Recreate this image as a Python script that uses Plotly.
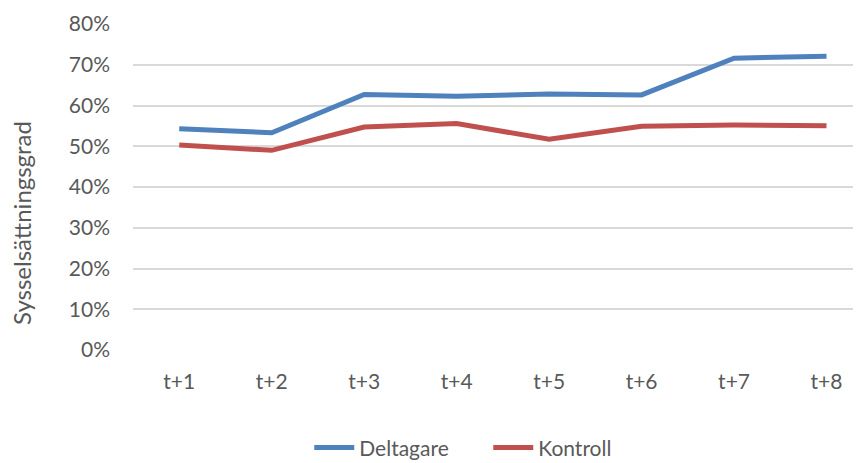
import plotly.graph_objects as go

# Sysselsättningsgrad per period
perioder = ["t+1", "t+2", "t+3", "t+4", "t+5", "t+6", "t+7", "t+8"]
deltagare = [0.543, 0.533, 0.627, 0.623, 0.628, 0.626, 0.716, 0.721]
kontroll = [0.503, 0.490, 0.547, 0.556, 0.517, 0.549, 0.552, 0.550]

font = "Lato, Calibri, sans-serif"
grey = "#595959"

fig = go.Figure()
fig.add_trace(go.Scatter(x=perioder, y=deltagare, name="Deltagare", mode="lines",
                         line=dict(color="#4F81BD", width=5)))
fig.add_trace(go.Scatter(x=perioder, y=kontroll, name="Kontroll", mode="lines",
                         line=dict(color="#C0504D", width=5)))

# page body adds 8px offset, so figure is 8px smaller than the window
fig.update_layout(
    width=853, height=455,
    margin=dict(l=125, r=0, t=16, b=113, autoexpand=False),
    plot_bgcolor="white", paper_bgcolor="white",
    font=dict(family=font, size=21, color=grey),
    showlegend=True,
    legend=dict(orientation="h", x=0.488, xanchor="center",
                y=-0.30, yanchor="middle", font=dict(size=21, color=grey),
                itemwidth=40, entrywidth=124, tracegroupgap=0),
)
fig.update_xaxes(type="category", range=[-0.5, 7.373], showgrid=False,
                 showline=False, ticks="", ticklabelstandoff=17, zeroline=False)
fig.update_yaxes(range=[0, 0.8], dtick=0.1, tickformat=".0%", showgrid=True,
                 gridcolor="#D9D9D9", gridwidth=1.5, zeroline=False,
                 ticks="", ticklabelstandoff=22, showline=False)
fig.add_annotation(text="Sysselsättningsgrad", textangle=-90, xref="paper", yref="paper",
                   x=0, xanchor="center", xshift=-112, y=0.5, yanchor="middle", yshift=-36,
                   showarrow=False, font=dict(family=font, size=24, color=grey))

fig.write_html("out.html")
